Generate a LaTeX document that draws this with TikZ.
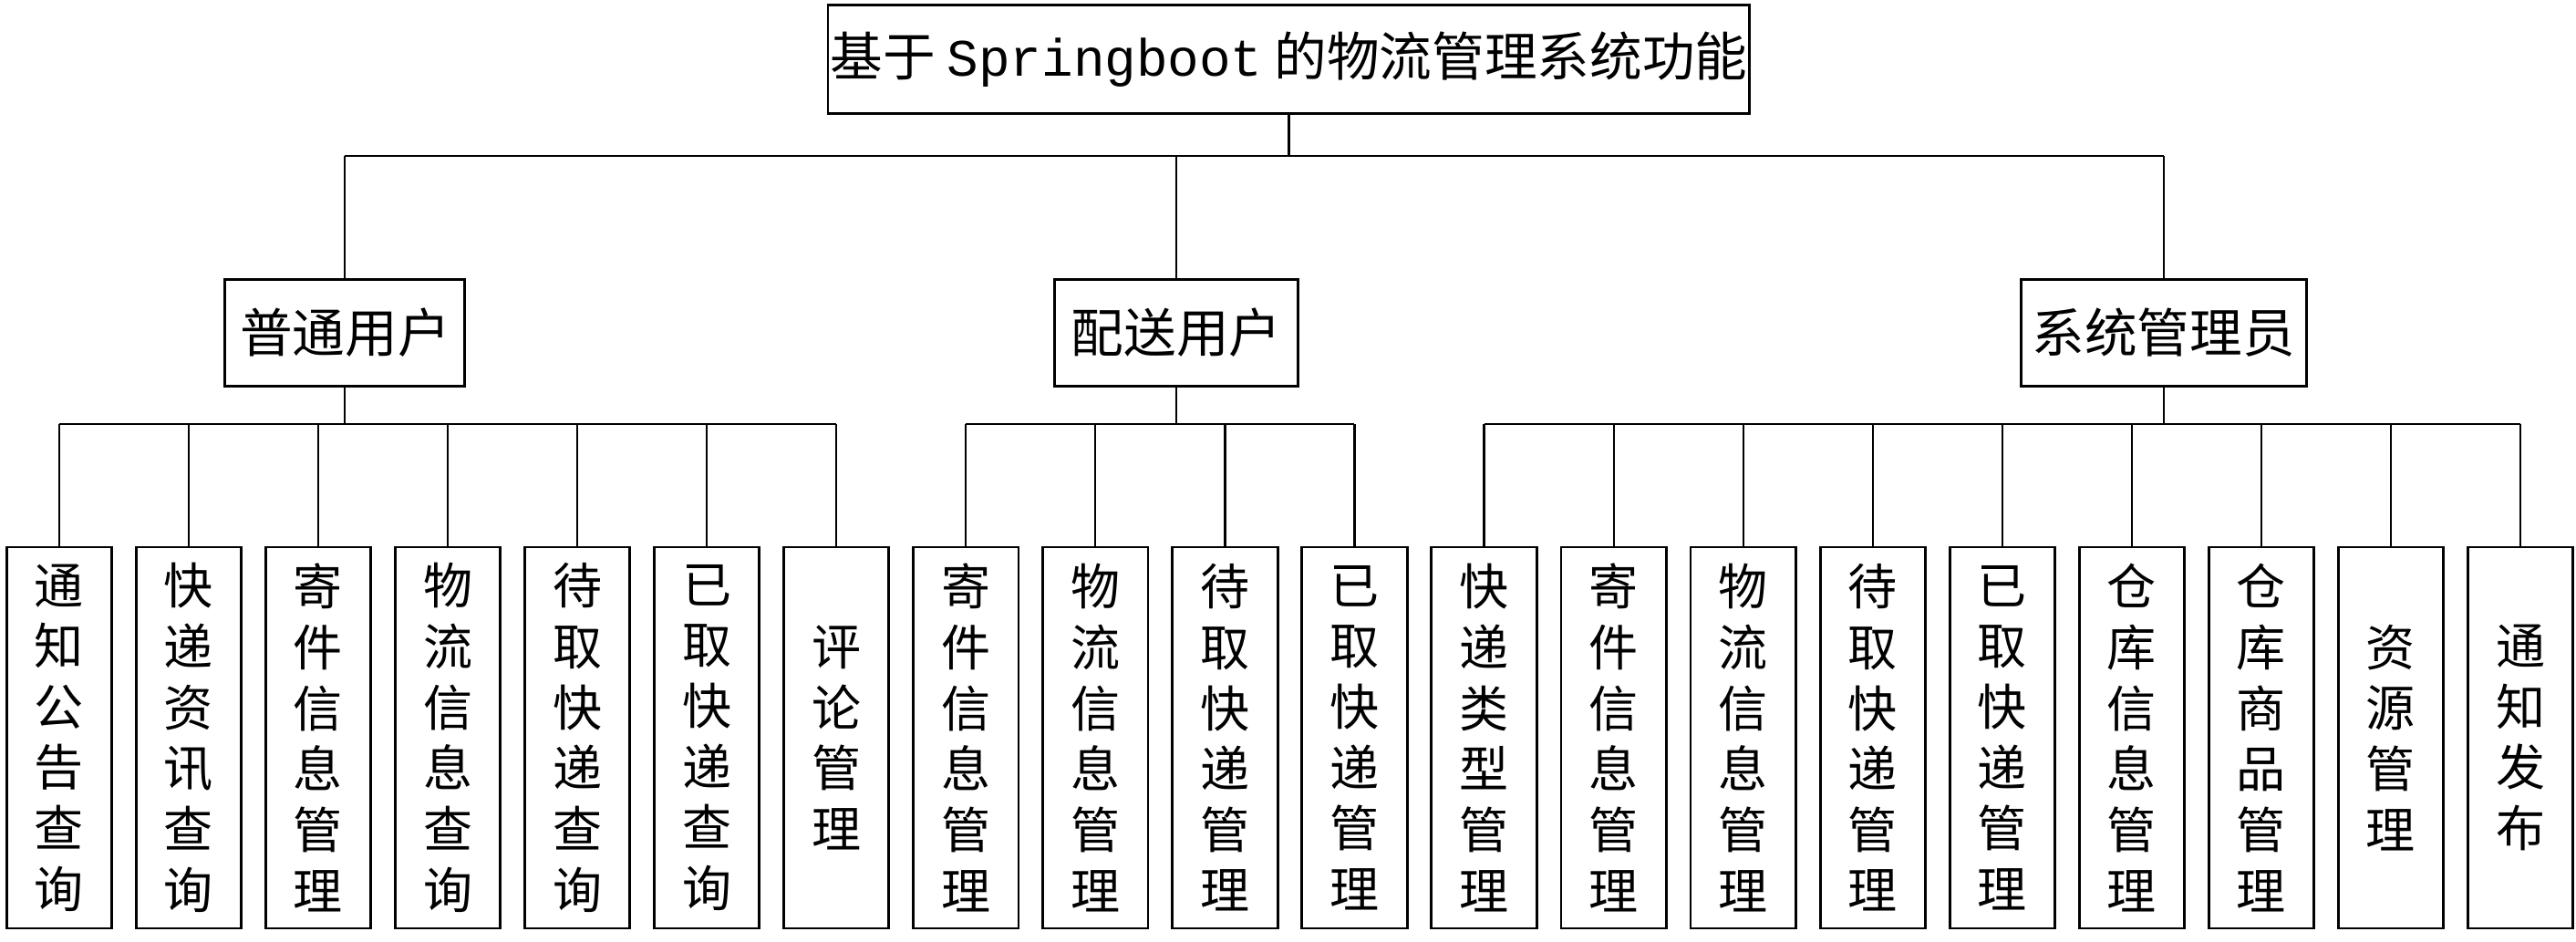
\documentclass[tikz,border=0pt]{standalone}
\usepackage{fontspec}
\setmainfont{Noto Sans CJK SC}
\newfontfamily\lat{Liberation Mono}
\begin{document}
\begin{tikzpicture}[x=0.5pt,y=-0.5pt,
  box/.style={draw,line width=0.8pt,inner sep=0pt},
  leaf/.style={box,minimum width=32pt,minimum height=116pt,align=center,font=\fontsize{15}{18.5}\selectfont},
  mid/.style={box,minimum height=32.5pt,font=\fontsize{16}{18}\selectfont},
  ln/.style={line width=0.6pt}]
\useasboundingbox (0,0) rectangle (1568,573);
\node[box,minimum width=280.5pt,minimum height=33pt,font=\fontsize{16}{20}\selectfont] (top) at (784.5,36) {基于 {\lat Springboot} 的物流管理系统功能};
\node[mid,minimum width=73pt] (a) at (210,202.5) {普通用户};
\node[mid,minimum width=74pt] (b) at (716,202.5) {配送用户};
\node[mid,minimum width=87pt] (c) at (1317,202.5) {系统管理员};
\coordinate (h) at (784.5,95);
\draw[ln] (top.south) -- (h);
\foreach \n in {a,b,c} \draw[ln] (\n.north) -- (\n.north |- h);
\draw[ln] (a.north |- h) -- (c.north |- h);
\foreach \i/\t in {1/通\\知\\公\\告\\查\\询,2/快\\递\\资\\讯\\查\\询,3/寄\\件\\信\\息\\管\\理,4/物\\流\\信\\息\\查\\询,5/待\\取\\快\\递\\查\\询,6/已\\取\\快\\递\\查\\询,7/评\\论\\管\\理,
8/寄\\件\\信\\息\\管\\理,9/物\\流\\信\\息\\管\\理,10/待\\取\\快\\递\\管\\理,11/已\\取\\快\\递\\管\\理,
12/快\\递\\类\\型\\管\\理,13/寄\\件\\信\\息\\管\\理,14/物\\流\\信\\息\\管\\理,15/待\\取\\快\\递\\管\\理,16/已\\取\\快\\递\\管\\理,17/仓\\库\\信\\息\\管\\理,18/仓\\库\\商\\品\\管\\理,19/资\\源\\管\\理,20/通\\知\\发\\布}
  \node[leaf] (l\i) at ({36+78.85*(\i-1)},449) {\t};
\foreach \p/\f/\l in {a/1/7,b/8/11,c/12/20}{
  \coordinate (y\p) at (0,258);
  \draw[ln] (\p.south) -- (\p.south |- y\p);
  \draw[ln] (l\f.north |- y\p) -- (l\l.north |- y\p);
  \foreach \k in {\f,...,\l} \draw[ln] (l\k.north) -- (l\k.north |- y\p);
}
\end{tikzpicture}
\end{document}
